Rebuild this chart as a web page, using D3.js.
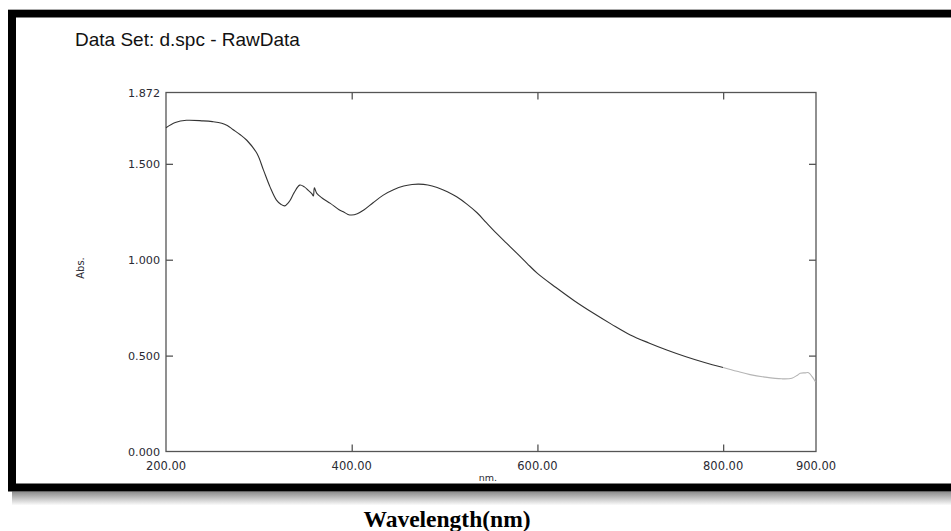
<!DOCTYPE html>
<html>
<head>
<meta charset="utf-8">
<script src="https://cdn.jsdelivr.net/npm/d3@7"></script>
<style>
  html, body { margin: 0; padding: 0; background: #fff; }
  svg { display: block; }
</style>
</head>
<body>
<svg id="chart" width="951" height="531"></svg>
<script>
// ---- data ----
const title = "Data Set: d.spc - RawData";
const xTickValues = [200, 400, 600, 800, 900];
const xTickLabels = ["200.00", "400.00", "600.00", "800.00", "900.00"];
const yTickValues = [0, 0.5, 1.0, 1.5, 1.872];
const yTickLabels = ["0.000", "0.500", "1.000", "1.500", "1.872"];
const xAxisLabel = "nm.";
const yAxisLabel = "Abs.";
const caption = "Wavelength(nm)";

const wavelength = [200, 210, 222, 240, 250, 260, 266, 272, 280, 287, 298, 305, 312, 319, 324, 328, 333, 338, 344, 349, 353, 357, 358.7, 359.8, 362.4, 368, 377, 386, 391, 396, 400, 406, 413, 423, 434, 445, 456, 465, 472, 482, 492, 503, 513, 524, 535, 545, 556, 567, 578, 589, 600, 620, 640, 660, 680, 700, 720, 740, 760, 780, 800];
const absorb     = [1.688, 1.715, 1.727, 1.724, 1.720, 1.712, 1.700, 1.679, 1.652, 1.623, 1.554, 1.467, 1.380, 1.311, 1.288, 1.281, 1.305, 1.350, 1.389, 1.380, 1.363, 1.345, 1.332, 1.375, 1.346, 1.322, 1.294, 1.262, 1.250, 1.236, 1.233, 1.240, 1.259, 1.297, 1.337, 1.365, 1.384, 1.392, 1.394, 1.390, 1.377, 1.355, 1.328, 1.290, 1.245, 1.193, 1.137, 1.085, 1.033, 0.980, 0.929, 0.855, 0.785, 0.722, 0.663, 0.608, 0.566, 0.528, 0.494, 0.464, 0.438];
const wavelengthTail = [800, 815, 829, 845, 863, 874, 880, 883, 888, 892, 895.8, 899.4];
const absorbTail     = [0.438, 0.418, 0.401, 0.388, 0.379, 0.382, 0.398, 0.408, 0.410, 0.411, 0.390, 0.364];

// ---- layout ----
const svg = d3.select("#chart");
const W = 951, H = 531;
const plot = { left: 166, right: 816, top: 92.5, bottom: 451.5 };

// defs: shadow gradient
const defs = svg.append("defs");
const sg = defs.append("linearGradient").attr("id", "shadow").attr("x1", 0).attr("y1", 0).attr("x2", 0).attr("y2", 1);
sg.append("stop").attr("offset", "0%").attr("stop-color", "#8a8a8a");
sg.append("stop").attr("offset", "100%").attr("stop-color", "#ffffff");

// background
svg.append("rect").attr("x", 0).attr("y", 0).attr("width", W).attr("height", H).attr("fill", "#fff");

// shadow beneath the frame
svg.append("rect").attr("x", 12).attr("y", 491.5).attr("width", W - 12).attr("height", 14).attr("fill", "url(#shadow)");

// thin gray line above frame
svg.append("line").attr("x1", 8).attr("x2", W).attr("y1", 9.5).attr("y2", 9.5).attr("stroke", "#aaa").attr("stroke-width", 1);

// thick black frame
svg.append("rect").attr("x", 8).attr("y", 10).attr("width", W).attr("height", 481.5).attr("fill", "#000");
svg.append("rect").attr("x", 16).attr("y", 17.5).attr("width", W).attr("height", 466).attr("fill", "#fff");

// title
svg.append("text").attr("x", 75).attr("y", 46)
  .attr("font-family", "'Liberation Sans', Arial, sans-serif").attr("font-size", 19)
  .attr("fill", "#111").text(title);

// scales
const x = d3.scaleLinear().domain([200, 900]).range([plot.left, plot.right]);
const y = d3.scaleLinear().domain([0, 1.872]).range([plot.bottom, plot.top]);

const axisColor = "#555";
const tickFont = "'DejaVu Sans', Verdana, sans-serif";
const tickColor = "#2a2a33";

// frame of plot
svg.append("rect").attr("x", plot.left).attr("y", plot.top)
  .attr("width", plot.right - plot.left).attr("height", plot.bottom - plot.top)
  .attr("fill", "none").attr("stroke", axisColor).attr("stroke-width", 1.3);

// axes (inner ticks) via d3 axes
const innerX = xTickValues.filter(v => v > 200 && v < 900);
const innerY = yTickValues.filter(v => v > 0 && v < 1.872);

function styleAxis(sel) {
  sel.select(".domain").remove();
  sel.selectAll(".tick line").attr("stroke", axisColor).attr("stroke-width", 1.3);
  sel.selectAll(".tick text").remove();
}
svg.append("g").attr("transform", `translate(0,${plot.bottom})`)
  .call(d3.axisTop(x).tickValues(innerX).tickSizeInner(7).tickSizeOuter(0)).call(styleAxis);
svg.append("g").attr("transform", `translate(0,${plot.top})`)
  .call(d3.axisBottom(x).tickValues(innerX).tickSizeInner(7).tickSizeOuter(0)).call(styleAxis);
svg.append("g").attr("transform", `translate(${plot.left},0)`)
  .call(d3.axisRight(y).tickValues(innerY).tickSizeInner(7).tickSizeOuter(0)).call(styleAxis);
svg.append("g").attr("transform", `translate(${plot.right},0)`)
  .call(d3.axisLeft(y).tickValues(innerY).tickSizeInner(7).tickSizeOuter(0)).call(styleAxis);

// tick labels
svg.append("g").selectAll("text").data(xTickValues).join("text")
  .attr("x", d => x(d)).attr("y", 470).attr("text-anchor", "middle")
  .attr("font-family", tickFont).attr("font-size", 11.5).attr("fill", tickColor)
  .text((d, i) => xTickLabels[i]);
svg.append("g").selectAll("text").data(yTickValues).join("text")
  .attr("x", 160).attr("y", d => y(d) + 4).attr("text-anchor", "end")
  .attr("font-family", tickFont).attr("font-size", 11.2).attr("fill", tickColor)
  .text((d, i) => yTickLabels[i]);

// axis labels
svg.append("text").attr("x", 488).attr("y", 481).attr("text-anchor", "middle")
  .attr("font-family", tickFont).attr("font-size", 9.5).attr("fill", tickColor).text(xAxisLabel);
svg.append("text").attr("transform", "translate(84,268) rotate(-90)").attr("text-anchor", "middle")
  .attr("font-family", tickFont).attr("font-size", 10).attr("fill", tickColor).text(yAxisLabel);

// curve
const main = wavelength.map((w, i) => [w, absorb[i]]);
const tail = wavelengthTail.map((w, i) => [w, absorbTail[i]]);
const line = d3.line().x(d => x(d[0])).y(d => y(d[1])).curve(d3.curveCatmullRom.alpha(0.5));
svg.append("path").datum(main).attr("d", line).attr("fill", "none")
  .attr("stroke", "#333").attr("stroke-width", 1.1);
svg.append("path").datum(tail).attr("d", line).attr("fill", "none")
  .attr("stroke", "#b5b5b5").attr("stroke-width", 1.1);

// caption
svg.append("text").attr("x", 447).attr("y", 527).attr("text-anchor", "middle")
  .attr("font-family", "'Liberation Serif', 'Times New Roman', serif").attr("font-weight", "bold")
  .attr("font-size", 23.5).attr("fill", "#000").text(caption);
</script>
</body>
</html>
